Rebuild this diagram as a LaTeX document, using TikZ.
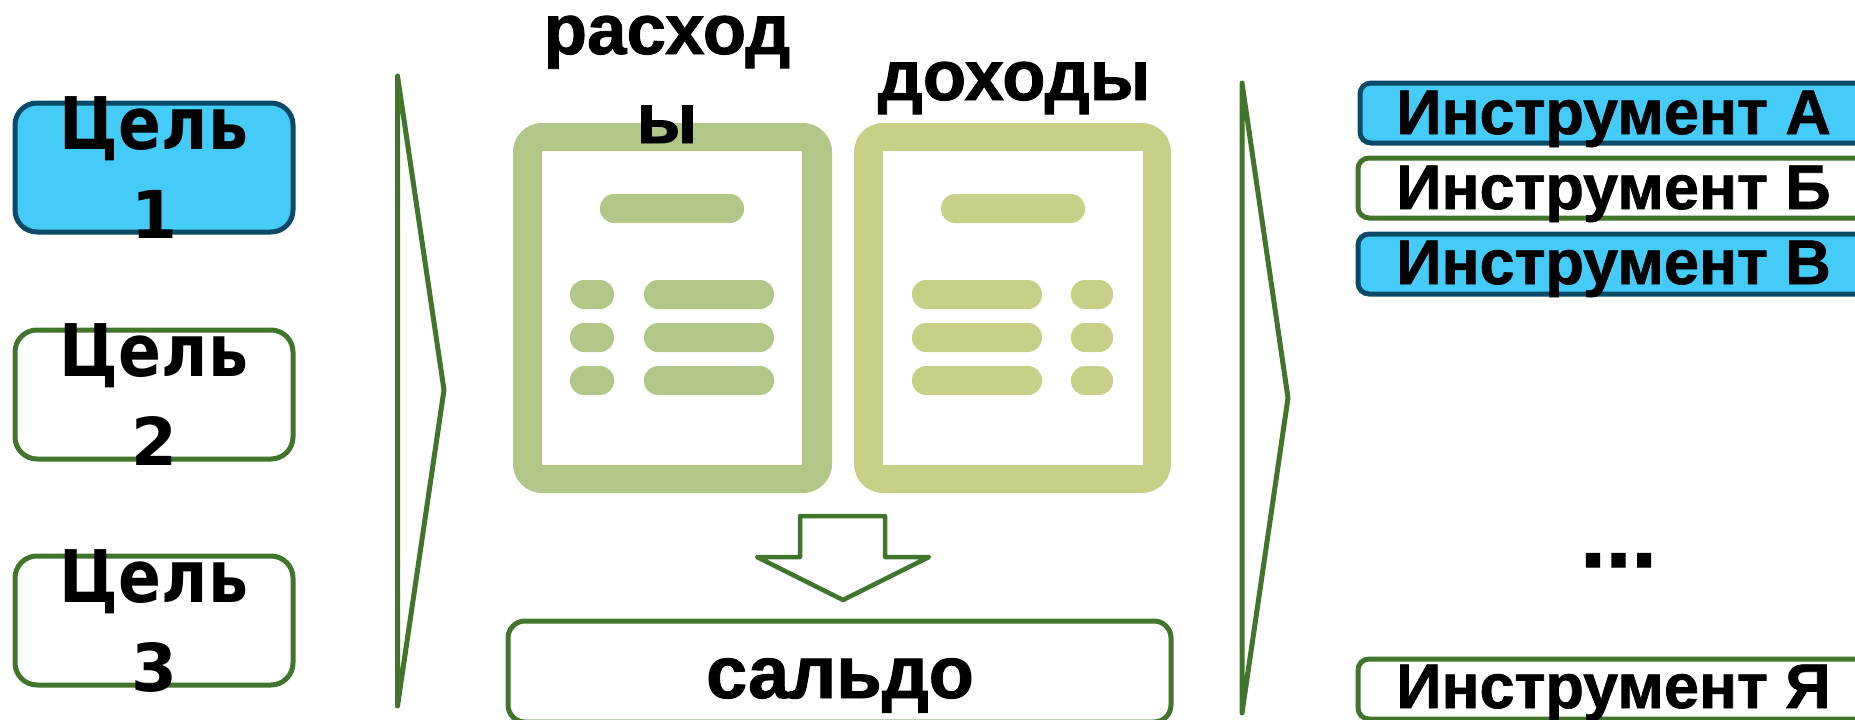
\documentclass[tikz,border=0pt]{standalone}
\usepackage{fontspec}
\setmainfont[BoldFeatures={FakeBold=1.2}]{Liberation Sans}
\newfontfamily\dejav{DejaVu Sans}
\definecolor{skyfill}{HTML}{45CBF8}
\definecolor{deepedge}{HTML}{0B4A66}
\definecolor{leaf}{HTML}{41752B}
\definecolor{docone}{HTML}{B0C788}
\definecolor{doctwo}{HTML}{C8D088}
\tikzset{
 plainbox/.style={draw=leaf,line width=5pt,fill=white,rounded corners=17pt,inner sep=0pt},
 bluebox/.style={draw=deepedge,line width=5pt,fill=skyfill,rounded corners=17pt,inner sep=0pt},
 goalplain/.style={plainbox,rounded corners=22pt},
 goalblue/.style={bluebox,rounded corners=22pt},
 thinplain/.style={plainbox,rounded corners=11pt},
 thinblue/.style={bluebox,rounded corners=11pt},
 goaltext/.style={font=\dejav\fontsize{66}{90}\bfseries\selectfont,inner sep=0pt,anchor=base},
 bigtext/.style={font=\fontsize{71}{86}\bfseries\selectfont,align=center,inner sep=0pt,anchor=base},
 tooltext/.style={font=\fontsize{63}{70}\bfseries\selectfont,inner sep=0pt,anchor=base west},
 dotstext/.style={font=\fontsize{92}{92}\bfseries\selectfont,inner sep=0pt,anchor=base west},
 shapeline/.style={draw=leaf,line width=5pt,line join=round,fill=white},
 bar/.style={rounded corners=14pt,draw=none}
}
\begin{document}
\begin{tikzpicture}[x=1pt,y=-1pt]
\useasboundingbox (0,0) rectangle (1855,720);
\clip (0,0) rectangle (1855,720);
% goals
\draw[goalblue]  (15,103) rectangle (293,232);
\draw[goalplain] (15,330) rectangle (293,459);
\draw[goalplain] (15,556) rectangle (293,685);
\node[goaltext] (g1) at (154,149) {\scalebox{0.96}[1.1]{Цель}};
\node[goaltext] (g1n) at (154,238) {1};
\node[goaltext] (g2) at (154,376) {\scalebox{0.96}[1.1]{Цель}};
\node[goaltext] (g2n) at (154,465) {2};
\node[goaltext] (g3) at (154,602) {\scalebox{0.96}[1.1]{Цель}};
\node[goaltext] (g3n) at (154,691) {3};
% chevrons
\draw[shapeline] (397.5,76) -- (444,390) -- (397.5,706) -- cycle;
\draw[shapeline] (1242,83) -- (1288,398) -- (1242,713) -- cycle;
% documents
\fill[docone,rounded corners=29pt] (513,123) rectangle (832,493);
\fill[white] (542,151) rectangle (802,465);
\fill[doctwo,rounded corners=29pt] (854,123) rectangle (1171,493);
\fill[white] (883,151) rectangle (1143,465);
\foreach \yy in {280,323,366}{
 \fill[docone,bar] (570,\yy) rectangle (614,\yy+29);
 \fill[docone,bar] (644,\yy) rectangle (774,\yy+29);
 \fill[doctwo,bar] (912,\yy) rectangle (1042,\yy+29);
 \fill[doctwo,bar] (1071,\yy) rectangle (1113,\yy+29);
}
\fill[docone,bar] (600,194) rectangle (744,223);
\fill[doctwo,bar] (941,194) rectangle (1085,223);
\node[bigtext] (rash) at (667,54) {расход};
\node[bigtext] (rash2) at (667,143) {ы};
\node[bigtext] (doh) at (1014,100) {доходы};
% down arrow
\draw[shapeline,line width=4.5pt] (800,516) -- (885,516) -- (885,557) -- (929,557) -- (843,600) -- (757,557) -- (800,557) -- cycle;
% balance
\draw[plainbox] (508,621) rectangle (1171,722);
\node[bigtext,font=\fontsize{74}{86}\bfseries\selectfont] (sal) at (840,698) {сальдо};
% instruments
\draw[thinblue]  (1360,83) rectangle (1900,143);
\draw[thinplain] (1358,158) rectangle (1900,218);
\draw[thinblue]  (1358,234) rectangle (1900,294);
\draw[thinplain] (1358,659) rectangle (1900,719);
\node[tooltext] (ia) at (1396,134) {Инструмент А};
\node[tooltext] (ib) at (1396,209) {Инструмент Б};
\node[tooltext] (iv) at (1396,284) {Инструмент В};
\node[tooltext] (iya) at (1396,708) {Инструмент Я};
\node[dotstext] (dots) at (1580,567) {...};
\end{tikzpicture}
\end{document}
